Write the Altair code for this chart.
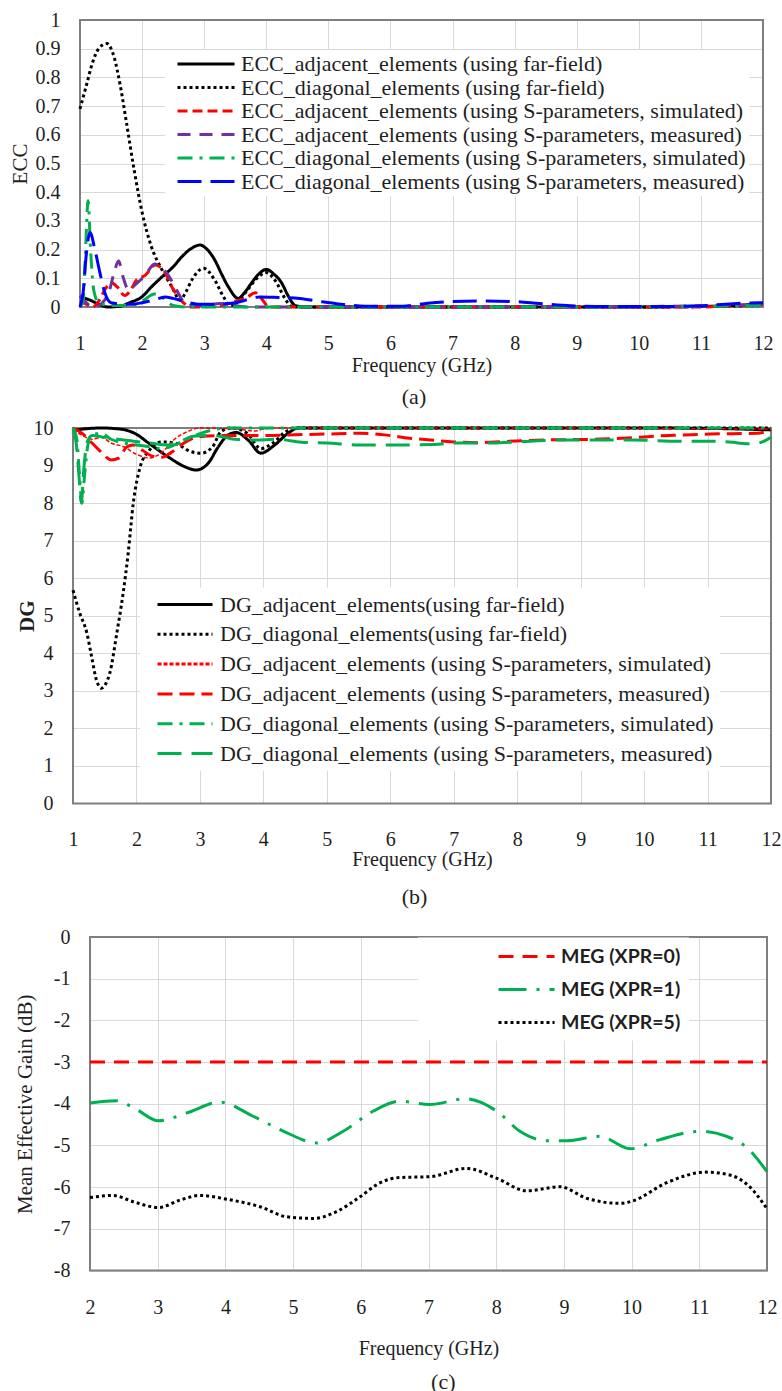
import altair as alt
import pandas as pd

SERIF = "Liberation Serif"
SANS = "Lato"
GRID = "#d9d9d9"
TXT = "#1f1f1f"
FRAME = "#7f7f7f"
X0 = 73  # common left origin of all three panels (page pixels)

# ---------------- (a) ECC ----------------
ecc_names = [
    "ECC_adjacent_elements (using far-field)",
    "ECC_diagonal_elements (using far-field)",
    "ECC_adjacent_elements (using S-parameters, simulated)",
    "ECC_adjacent_elements (using S-parameters, measured)",
    "ECC_diagonal_elements (using S-parameters, simulated)",
    "ECC_diagonal_elements (using S-parameters, measured)",
]
ecc_colors = ["#000000", "#000000", "#ff0000", "#7030a0", "#00b050", "#0000ff"]
ecc_dashes = [[1, 0], [3, 3], [10, 5], [13, 9], [15, 7, 3, 7], [24, 9]]
ecc_widths = [3, 3, 3, 3, 3, 3]

ecc_adj_ff_f = [1.0, 1.15, 1.3, 1.45, 1.65, 1.8, 2.0, 2.15, 2.32, 2.5, 2.64, 2.8, 2.93, 3.05, 3.17, 3.28, 3.39, 3.55, 3.65, 3.76, 3.88, 4.0, 4.12, 4.25, 4.35, 4.46, 4.6, 6, 8, 10, 11, 11.6, 12]
ecc_adj_ff_v = [0.035, 0.025, 0.01, 0.0, 0.003, 0.015, 0.036, 0.07, 0.105, 0.14, 0.175, 0.205, 0.216, 0.2, 0.164, 0.115, 0.07, 0.03, 0.05, 0.083, 0.115, 0.131, 0.115, 0.083, 0.04, 0.006, 0.0, 0, 0, 0, 0.002, 0.006, 0.012]

ecc_diag_ff_f = [1.0, 1.1, 1.2, 1.3, 1.43, 1.55, 1.65, 1.75, 1.87, 2.0, 2.15, 2.32, 2.48, 2.61, 2.7, 2.8, 2.99, 3.17, 3.31, 3.42, 3.55, 3.7, 3.85, 4.0, 4.15, 4.3, 4.42, 6, 8, 10, 12]
ecc_diag_ff_v = [0.69, 0.77, 0.85, 0.9, 0.918, 0.87, 0.77, 0.64, 0.48, 0.33, 0.21, 0.13, 0.07, 0.024, 0.05, 0.094, 0.135, 0.094, 0.036, 0.005, 0.02, 0.06, 0.1, 0.12, 0.09, 0.03, 0.0, 0, 0, 0, 0.005]

ecc_adj_sim_f = [1.0, 1.1, 1.2, 1.3, 1.4, 1.5, 1.6, 1.72, 1.82, 1.91, 2.05, 2.21, 2.34, 2.48, 2.64, 2.8, 3.2, 3.5, 3.7, 3.82, 3.92, 4.05, 6, 8, 10, 11, 11.5, 12]
ecc_adj_sim_v = [0.02, 0.01, 0.0, 0.02, 0.06, 0.085, 0.07, 0.04, 0.06, 0.094, 0.11, 0.146, 0.13, 0.07, 0.02, 0.0, 0.003, 0.02, 0.035, 0.05, 0.03, 0.0, 0, 0, 0, 0.0, 0.004, 0.01]

ecc_adj_meas_f = [1.0, 1.1, 1.2, 1.3, 1.4, 1.46, 1.55, 1.62, 1.7, 1.78, 1.9, 2.05, 2.2, 2.35, 2.48, 2.58, 2.73, 3.0, 3.25, 3.5, 3.7, 6, 9, 12]
ecc_adj_meas_v = [0.04, 0.015, 0.0, 0.005, 0.025, 0.048, 0.12, 0.16, 0.1, 0.06, 0.08, 0.11, 0.15, 0.13, 0.09, 0.05, 0.005, 0.005, 0.012, 0.005, 0.0, 0.0, 0.0, 0.008]

ecc_diag_sim_f = [1.0, 1.05, 1.09, 1.13, 1.17, 1.22, 1.3, 1.5, 1.8, 2.0, 2.2, 2.35, 2.5, 2.7, 6, 9, 12]
ecc_diag_sim_v = [0.0, 0.02, 0.2, 0.37, 0.2, 0.06, 0.015, 0.005, 0.005, 0.02, 0.045, 0.03, 0.005, 0.0, 0.0, 0.0, 0.005]

ecc_diag_meas_f = [1.0, 1.05, 1.1, 1.16, 1.24, 1.32, 1.4, 1.5, 1.7, 1.85, 2.0, 2.2, 2.37, 2.5, 2.7, 2.9, 3.2, 3.5, 3.9, 4.2, 4.54, 4.9, 5.19, 5.6, 6.2, 6.6, 7.0, 7.5, 8.0, 8.4, 8.9, 9.5, 10.5, 11.0, 11.4, 11.95, 12.0]
ecc_diag_meas_v = [0.0, 0.05, 0.18, 0.26, 0.2, 0.12, 0.05, 0.015, 0.01, 0.01, 0.015, 0.025, 0.035, 0.03, 0.018, 0.01, 0.01, 0.015, 0.035, 0.033, 0.03, 0.018, 0.01, 0.003, 0.003, 0.013, 0.019, 0.021, 0.019, 0.012, 0.004, 0.002, 0.002, 0.004, 0.01, 0.015, 0.015]

# ---------------- (b) DG ----------------
dg_names = [
    "DG_adjacent_elements(using far-field)",
    "DG_diagonal_elements(using far-field)",
    "DG_adjacent_elements (using S-parameters, simulated)",
    "DG_adjacent_elements (using S-parameters, measured)",
    "DG_diagonal_elements (using S-parameters, simulated)",
    "DG_diagonal_elements (using S-parameters, measured)",
]
dg_colors = ["#000000", "#000000", "#ff0000", "#ff0000", "#00b050", "#00b050"]
dg_dashes = [[1, 0], [3, 3], [4, 2], [15, 7], [15, 7, 3, 7], [24, 10]]
dg_widths = [3, 3, 1.5, 3, 3, 3]

dg_adj_ff_f = [1.0, 1.2, 1.45, 1.75, 1.97, 2.23, 2.5, 2.76, 2.94, 3.13, 3.29, 3.44, 3.57, 3.76, 3.96, 4.18, 4.39, 4.55, 6, 8, 10, 11, 12]
dg_adj_ff_v = [9.93, 9.98, 10.0, 9.97, 9.86, 9.55, 9.23, 8.97, 8.88, 9.06, 9.5, 9.81, 9.88, 9.68, 9.33, 9.55, 9.86, 10.0, 10, 10, 10, 9.99, 9.95]

dg_diag_ff_f = [1.0, 1.1, 1.22, 1.3, 1.37, 1.45, 1.52, 1.58, 1.69, 1.79, 1.87, 1.95, 2.06, 2.2, 2.39, 2.6, 2.86, 3.02, 3.2, 3.33, 3.5, 3.75, 3.96, 4.15, 4.35, 4.5, 8, 12]
dg_diag_ff_v = [5.68, 5.1, 4.53, 3.85, 3.28, 3.07, 3.2, 3.47, 4.53, 5.6, 6.67, 8.0, 8.97, 9.4, 9.63, 9.6, 9.37, 9.33, 9.5, 9.9, 10.0, 9.85, 9.45, 9.6, 9.9, 10.0, 10.0, 10.0]

dg_adj_sim_f = [1.0, 1.15, 1.3, 1.45, 1.6, 1.8, 2.0, 2.2, 2.4, 2.6, 2.8, 3.0, 3.6, 3.85, 4.0, 4.2, 8, 12]
dg_adj_sim_v = [9.95, 9.8, 9.7, 9.75, 9.6, 9.5, 9.3, 9.2, 9.35, 9.7, 9.9, 10.0, 9.97, 9.92, 9.97, 10.0, 10.0, 9.97]

dg_adj_meas_f = [1.0, 1.15, 1.3, 1.45, 1.6, 1.72, 1.85, 1.95, 2.1, 2.25, 2.4, 2.55, 2.75, 3.0, 3.5, 4.0, 4.5, 5.0, 5.52, 5.95, 6.3, 6.63, 7.0, 7.37, 7.8, 8.4, 9.2, 9.9, 10.25, 10.57, 11.04, 11.78, 12.0]
dg_adj_meas_v = [10.0, 9.85, 9.6, 9.35, 9.15, 9.2, 9.5, 9.55, 9.4, 9.25, 9.22, 9.35, 9.6, 9.77, 9.8, 9.8, 9.82, 9.84, 9.86, 9.81, 9.73, 9.68, 9.63, 9.61, 9.64, 9.68, 9.7, 9.75, 9.79, 9.81, 9.84, 9.86, 9.95]

dg_diag_sim_f = [1.0, 1.06, 1.1, 1.14, 1.18, 1.23, 1.3, 1.45, 1.6, 1.8, 2.0, 2.2, 2.4, 2.6, 2.8, 3.0, 3.2, 3.4, 8, 12]
dg_diag_sim_v = [10.0, 9.7, 8.8, 8.0, 8.7, 9.5, 9.85, 9.85, 9.7, 9.6, 9.55, 9.5, 9.45, 9.55, 9.7, 9.85, 9.95, 10.0, 10.0, 10.0]

dg_diag_meas_f = [1.0, 1.05, 1.1, 1.13, 1.17, 1.22, 1.3, 1.5, 1.7, 1.95, 2.2, 2.5, 2.7, 2.9, 3.2, 3.4, 3.55, 3.87, 4.2, 4.6, 5.0, 5.5, 6.2, 6.7, 7.0, 7.6, 8.2, 8.7, 9.3, 9.85, 10.4, 11.0, 11.4, 11.6, 11.8, 12.0]
dg_diag_meas_v = [10.0, 9.6, 8.6, 8.0, 8.9, 9.6, 9.8, 9.75, 9.7, 9.65, 9.6, 9.55, 9.65, 9.78, 9.8, 9.75, 9.7, 9.68, 9.7, 9.62, 9.6, 9.55, 9.55, 9.56, 9.6, 9.6, 9.65, 9.68, 9.68, 9.68, 9.65, 9.65, 9.62, 9.58, 9.6, 9.75]

# ---------------- (c) MEG ----------------
meg_names = ["MEG (XPR=0)", "MEG (XPR=1)", "MEG (XPR=5)"]
meg_colors = ["#ff0000", "#00b050", "#000000"]
meg_dashes = [[15, 9], [28, 10, 3, 10], [3, 3]]
meg_widths = [3, 3, 3]

meg0_f = [2, 3, 4, 5, 6, 7, 8, 9, 10, 11, 12]
meg0_v = [-3, -3, -3, -3, -3, -3, -3, -3, -3, -3, -3]

meg1_f = [2.0, 2.39, 2.69, 3.01, 3.43, 3.92, 4.41, 4.86, 5.35, 5.74, 6.18, 6.58, 7.02, 7.54, 8.01, 8.35, 8.75, 9.04, 9.53, 9.98, 10.42, 11.01, 11.4, 11.7, 12.0]
meg1_v = [-3.98, -3.93, -4.14, -4.41, -4.22, -3.96, -4.3, -4.66, -4.94, -4.66, -4.18, -3.94, -4.02, -3.88, -4.18, -4.66, -4.89, -4.89, -4.78, -5.08, -4.86, -4.66, -4.78, -5.05, -5.63]

meg5_f = [2.0, 2.34, 2.64, 3.01, 3.33, 3.62, 4.02, 4.51, 4.9, 5.3, 5.64, 5.99, 6.28, 6.58, 7.02, 7.56, 8.01, 8.45, 8.94, 9.34, 9.83, 10.02, 10.51, 11.1, 11.45, 11.75, 12.0]
meg5_v = [-6.25, -6.2, -6.35, -6.49, -6.31, -6.2, -6.29, -6.47, -6.71, -6.75, -6.59, -6.23, -5.9, -5.77, -5.75, -5.55, -5.79, -6.09, -5.99, -6.27, -6.39, -6.33, -5.9, -5.64, -5.71, -6.0, -6.52]


def make_df(names, fs, vs, widths):
    rows = []
    for n, f, v, w in zip(names, fs, vs, widths):
        for a, b in zip(f, v):
            rows.append({"series": n, "f": a, "v": b, "w": w})
    return pd.DataFrame(rows)


ecc_df = make_df(ecc_names,
                 [ecc_adj_ff_f, ecc_diag_ff_f, ecc_adj_sim_f, ecc_adj_meas_f, ecc_diag_sim_f, ecc_diag_meas_f],
                 [ecc_adj_ff_v, ecc_diag_ff_v, ecc_adj_sim_v, ecc_adj_meas_v, ecc_diag_sim_v, ecc_diag_meas_v],
                 ecc_widths)
dg_df = make_df(dg_names,
                [dg_adj_ff_f, dg_diag_ff_f, dg_adj_sim_f, dg_adj_meas_f, dg_diag_sim_f, dg_diag_meas_f],
                [dg_adj_ff_v, dg_diag_ff_v, dg_adj_sim_v, dg_adj_meas_v, dg_diag_sim_v, dg_diag_meas_v],
                dg_widths)
meg_df = make_df(meg_names, [meg0_f, meg1_f, meg5_f], [meg0_v, meg1_v, meg5_v], meg_widths)

one = pd.DataFrame({"k": [0]})


def panel(df, names, colors, dashes, L, R, T, H, band_bottom,
          xdom, xvals, ydom, yvals, ytitle, ytitle_weight, ytitle_x,
          xlabel_pad, xtitle_y, legend_kw, tag, tag_x, tag_y):
    # view spans X0..R ; the plot rectangle spans L..R (page pixels)
    W = R - X0
    r0 = L - X0
    xaxis = alt.Axis(values=xvals, title="Frequency (GHz)", titleFont=SERIF, titleFontSize=20,
                     titleFontWeight="normal", titleColor=TXT, titleX=(r0 + W) / 2, titleY=xtitle_y,
                     titleBaseline="middle", titleAlign="center",
                     labelFont=SERIF, labelFontSize=20, labelColor=TXT, labelPadding=xlabel_pad,
                     labelExpr="'' + datum.value",
                     labelFlush=False, labelOverlap=False, ticks=False, domain=False,
                     grid=True, gridColor=GRID, gridWidth=1)
    yaxis = alt.Axis(values=yvals, title=ytitle, titleFont=SERIF, titleFontSize=21,
                     titleFontWeight=ytitle_weight, titleColor=TXT, titleX=ytitle_x, titleY=H / 2,
                     titleBaseline="middle", titleAlign="center", offset=-r0,
                     labelFont=SERIF, labelFontSize=20, labelColor=TXT, labelPadding=20,
                     labelExpr="'' + datum.value",
                     labelFlush=False, labelOverlap=False, ticks=False, domain=False,
                     grid=True, gridColor=GRID, gridWidth=1)
    leg = alt.Legend(orient="none", direction="vertical", title=None, fillColor="white",
                     labelLimit=1000, symbolStrokeWidth=3, symbolFillColor="transparent",
                     **legend_kw)
    xs = alt.Scale(domain=xdom, range=[r0, W], nice=False, zero=False)
    ys = alt.Scale(domain=ydom, nice=False, zero=False)
    line = alt.Chart(df).mark_line(interpolate="monotone", strokeCap="butt", strokeJoin="round").encode(
        x=alt.X("f:Q", scale=xs, axis=xaxis),
        y=alt.Y("v:Q", scale=ys, axis=yaxis),
        color=alt.Color("series:N", scale=alt.Scale(domain=names, range=colors), sort=names, legend=leg),
        strokeDash=alt.StrokeDash("series:N", scale=alt.Scale(domain=names, range=dashes), sort=names, legend=leg),
        strokeWidth=alt.StrokeWidth("w:Q", scale=None),
    )
    frame_df = pd.DataFrame({"f": [xdom[0]], "f2": [xdom[1]], "v": [ydom[0]], "v2": [ydom[1]]})
    frame = alt.Chart(frame_df).mark_rect(filled=False, stroke=FRAME, strokeWidth=2).encode(
        x=alt.X("f:Q", scale=xs, axis=xaxis), x2="f2:Q",
        y=alt.Y("v:Q", scale=ys, axis=yaxis), y2="v2:Q")
    label = alt.Chart(one).mark_text(text=tag, font=SERIF, fontSize=22, color=TXT,
                                     align="center", baseline="middle").encode(
        x=alt.value(tag_x), y=alt.value(tag_y))
    spacer = alt.Chart(one).mark_rule(strokeOpacity=0, strokeWidth=0.01).encode(
        x=alt.value(-X0), x2=alt.value(-X0), y=alt.value(-T), y2=alt.value(band_bottom))
    return alt.layer(frame, line, label, spacer).properties(width=W, height=H)


# (a): plot 80..763 x 20..307 ; band 0..412
pa = panel(ecc_df, ecc_names, ecc_colors, ecc_dashes,
           L=80, R=763, T=20, H=287, band_bottom=392,
           xdom=[1, 12], xvals=list(range(1, 13)),
           ydom=[0, 1], yvals=[0, 0.1, 0.2, 0.3, 0.4, 0.5, 0.6, 0.7, 0.8, 0.9, 1],
           ytitle="ECC", ytitle_weight="normal", ytitle_x=-60,
           xlabel_pad=26, xtitle_y=58,
           legend_kw=dict(legendX=92, legendY=30, padding=3, symbolOffset=8, rowPadding=1.5,
                          labelFont=SERIF, labelFontSize=22, labelColor=TXT, labelOffset=43,
                          symbolType="M-1,0L5,0", symbolSize=361),
           tag="(a)", tag_x=414 - X0, tag_y=376.7)

# (b): plot 73..771 x 427.3..802.7 ; band 412..915
pb = panel(dg_df, dg_names, dg_colors, dg_dashes,
           L=73, R=771, T=15.3, H=375.4, band_bottom=487.7,
           xdom=[1, 12], xvals=list(range(1, 13)),
           ydom=[0, 10], yvals=list(range(0, 11)),
           ytitle="DG", ytitle_weight="bold", ytitle_x=-46,
           xlabel_pad=26, xtitle_y=56.3,
           legend_kw=dict(legendX=67, legendY=159.5, padding=6, symbolOffset=10, rowPadding=7.8,
                          labelFont=SERIF, labelFontSize=22, labelColor=TXT, labelOffset=42,
                          symbolType="M-1,0L4.79,0", symbolSize=361),
           tag="(b)", tag_x=414.5 - X0, tag_y=469.4)

# (c): plot 90..767 x 935.5..1269 ; band 915..1391
pc = panel(meg_df, meg_names, meg_colors, meg_dashes,
           L=90, R=767, T=20.5, H=333.5, band_bottom=455.5,
           xdom=[2, 12], xvals=list(range(2, 13)),
           ydom=[-8, 0], yvals=list(range(-8, 1)),
           ytitle="Mean Effective Gain (dB)", ytitle_weight="normal", ytitle_x=-65,
           xlabel_pad=27, xtitle_y=78,
           legend_kw=dict(legendX=345, legendY=0.5, padding=8, symbolOffset=71, rowPadding=12,
                          labelFont=SANS, labelFontSize=19.5, labelFontWeight="bold", labelColor=TXT,
                          labelOffset=42, symbolType="M-1,0L4.9,0", symbolSize=361),
           tag="(c)", tag_x=443.3 - X0, tag_y=444.5)

chart = alt.vconcat(pa, pb, pc, spacing=0).properties(
    padding=0, background="white"
).configure_view(stroke="transparent", strokeWidth=0).resolve_scale(
    color="independent", strokeDash="independent", x="independent", y="independent"
).resolve_legend(color="independent", strokeDash="independent")

chart.save("out.html", embed_options={"renderer": "svg", "actions": False})
